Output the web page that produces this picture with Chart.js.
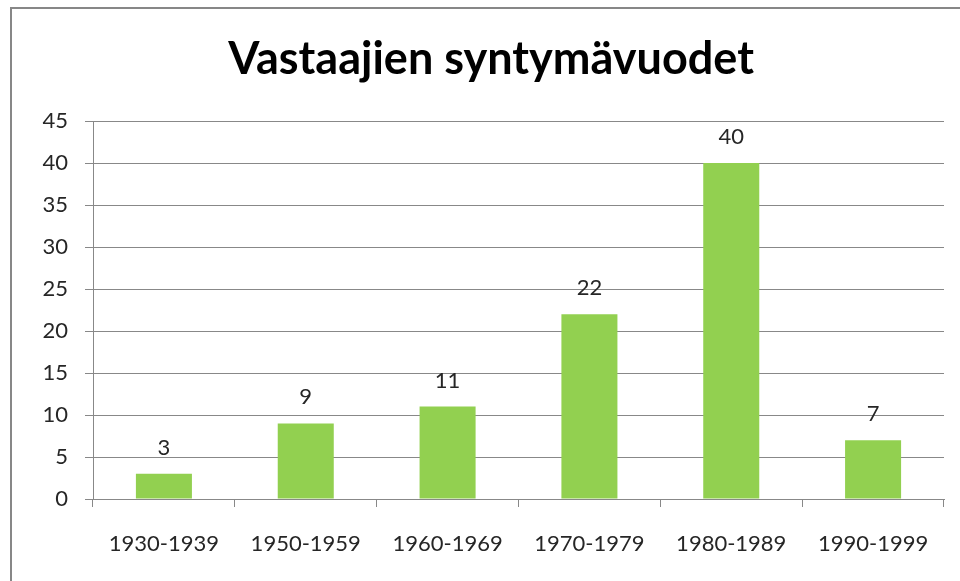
<!DOCTYPE html>
<html>
<head>
<meta charset="utf-8">
<script src="https://cdn.jsdelivr.net/npm/chart.js@4.4.1/dist/chart.umd.min.js"></script>
<style>
    body { margin: 0; background: #fff; overflow: hidden; }
    #frame {
        position: absolute; left: 10px; top: 7px; width: 960px; height: 581px;
        border-top: 2px solid #878787; border-left: 2px solid #878787;
    }
    #chart { position: absolute; left: 0; top: 0; }
</style>
</head>
<body>
<div id="frame"></div>
<canvas id="chart" width="960" height="581"></canvas>
<script>
// Data
const categories = ['1930-1939', '1950-1959', '1960-1969', '1970-1979', '1980-1989', '1990-1999'];
const counts = [3, 9, 11, 22, 40, 7];
const yMin = 0;
const yMax = 45;
const yStep = 5;

const textColor = '#262626';
const lineColor = '#888888';
const labelFont = { family: 'Lato', size: 22 };

// Label nilai di atas batang
const barValueLabels = {
    id: 'barValueLabels',
    afterDatasetsDraw: function(chart) {
        const ctx = chart.ctx;
        const meta = chart.getDatasetMeta(0);
        ctx.save();
        ctx.font = labelFont.size + 'px ' + labelFont.family;
        ctx.fillStyle = textColor;
        ctx.textAlign = 'center';
        ctx.textBaseline = 'bottom';
        meta.data.forEach(function(bar, i) {
            ctx.fillText(String(counts[i]), bar.x, bar.y - 15);
        });
        ctx.restore();
    }
};

new Chart(document.getElementById('chart').getContext('2d'), {
    type: 'bar',
    data: {
        labels: categories,
        datasets: [{
            data: counts,
            backgroundColor: '#92D050',
            borderWidth: 0,
            categoryPercentage: 1,
            barPercentage: 0.395
        }]
    },
    options: {
        responsive: false,
        animation: false,
        layout: { padding: { left: 38, right: 16, top: 0, bottom: 0 } },
        plugins: {
            legend: { display: false },
            tooltip: { enabled: false },
            title: {
                display: true,
                text: 'Vastaajien syntymävuodet',
                color: '#000',
                font: { family: 'Lato', size: 45, weight: 'bold', lineHeight: 1.2 },
                padding: { top: 32, bottom: 35 }
            }
        },
        scales: {
            x: {
                afterFit: function(scale) { scale.height = 82; },
                grid: {
                    offset: true,
                    drawOnChartArea: false,
                    drawTicks: true,
                    tickLength: 8,
                    color: lineColor
                },
                border: { display: true, color: lineColor, width: 1 },
                ticks: { color: textColor, font: labelFont, padding: 24, maxRotation: 0 }
            },
            y: {
                min: yMin,
                max: yMax,
                afterFit: function(scale) { scale.width = 55; },
                grid: { color: lineColor, tickLength: 8, drawTicks: true },
                border: { display: true, color: lineColor, width: 1 },
                ticks: { stepSize: yStep, color: textColor, font: labelFont, padding: 17 }
            }
        }
    },
    plugins: [barValueLabels]
});
</script>
</body>
</html>
